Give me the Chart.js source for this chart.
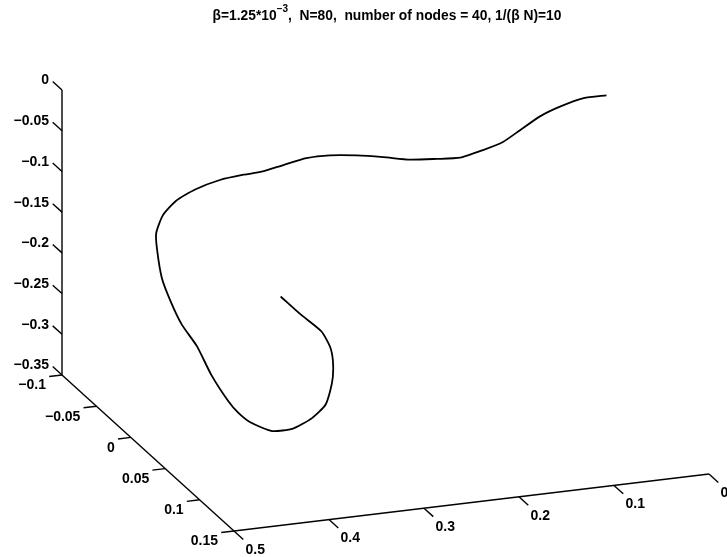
<!DOCTYPE html>
<html>
<head>
<meta charset="utf-8">
<script src="https://cdn.jsdelivr.net/npm/chart.js@4/dist/chart.umd.min.js"></script>
<style>
  html, body { margin: 0; padding: 0; background: #fff; }
  canvas { display: block; }
</style>
</head>
<body>
<canvas id="chart" width="727" height="557"></canvas>
<script>
const nodeX = [0.364, 0.342, 0.321, 0.312, 0.309, 0.309, 0.312, 0.317, 0.331, 0.351,
  0.373, 0.396, 0.409, 0.419, 0.437, 0.452, 0.468, 0.479, 0.489, 0.494,
  0.495, 0.488, 0.474, 0.454, 0.428, 0.403, 0.384, 0.361, 0.337, 0.312,
  0.284, 0.256, 0.228, 0.200, 0.175, 0.151, 0.130, 0.112, 0.091, 0.070,
  0.045, 0.021];
const nodeY = [0.03, 0.03, 0.03, 0.03, 0.03, 0.03, 0.03, 0.03, 0.03, 0.03,
  0.03, 0.03, 0.03, 0.03, 0.03, 0.03, 0.03, 0.03, 0.03, 0.03,
  0.03, 0.03, 0.03, 0.03, 0.03, 0.03, 0.03, 0.03, 0.03, 0.03,
  0.03, 0.03, 0.03, 0.03, 0.03, 0.03, 0.03, 0.03, 0.03, 0.03,
  0.03, 0.03];
const nodeZ = [-0.173, -0.199, -0.222, -0.242, -0.259, -0.279, -0.297, -0.313, -0.327, -0.337,
  -0.337, -0.323, -0.309, -0.294, -0.259, -0.222, -0.193, -0.165, -0.133, -0.098,
  -0.077, -0.056, -0.040, -0.029, -0.021, -0.018, -0.017, -0.012, -0.007, -0.007,
  -0.011, -0.017, -0.024, -0.027, -0.029, -0.023, -0.016, -0.004, 0.010, 0.019,
  0.026, 0.026];

// --- axes ---
const xRange = [0, 0.5];
const yRange = [-0.1, 0.15];
const zRange = [-0.35, 0];
const xTicks = [0.5, 0.4, 0.3, 0.2, 0.1, 0];
const xTickLabels = ["0.5", "0.4", "0.3", "0.2", "0.1", "0"];
const yTicks = [-0.1, -0.05, 0, 0.05, 0.1, 0.15];
const yTickLabels = ["\u22120.1", "\u22120.05", "0", "0.05", "0.1", "0.15"];
const zTicks = [0, -0.05, -0.1, -0.15, -0.2, -0.25, -0.3, -0.35];
const zTickLabels = ["0", "\u22120.05", "\u22120.1", "\u22120.15", "\u22120.2", "\u22120.25", "\u22120.3", "\u22120.35"];

// view: screen vector (chart units) of each full axis span
const viewX = [475, -57];   // x from 0.5 to 0
const viewY = [172, 156];   // y from -0.1 to 0.15
const viewZ = [0, -285];    // z from -0.35 to 0

function project(x, y, z) {
  const a = (xRange[1] - x) / (xRange[1] - xRange[0]);
  const b = (y - yRange[0]) / (yRange[1] - yRange[0]);
  const c = (z - zRange[0]) / (zRange[1] - zRange[0]);
  return {
    x: a * viewX[0] + b * viewY[0] + c * viewZ[0],
    y: a * viewX[1] + b * viewY[1] + c * viewZ[1],
  };
}

function segment(p, q) {
  return {
    data: [project(p[0], p[1], p[2]), project(q[0], q[1], q[2])],
    borderColor: "#000",
    borderWidth: 1.4,
    showLine: true,
    pointRadius: 0,
  };
}

const datasets = [];

// curve
datasets.push({
  data: nodeX.map((x, i) => project(x, nodeY[i], nodeZ[i])),
  borderColor: "#000",
  borderWidth: 1.8,
  showLine: true,
  pointRadius: 0,
  tension: 0.2,
});

// axis lines
const x0 = xRange[1], y0 = yRange[0], zb = zRange[0];
datasets.push(segment([x0, y0, zRange[0]], [x0, y0, zRange[1]]));
datasets.push(segment([x0, yRange[0], zb], [x0, yRange[1], zb]));
datasets.push(segment([xRange[1], yRange[1], zb], [xRange[0], yRange[1], zb]));

// tick marks
const tickLen = 0.0135;
zTicks.forEach((z) => datasets.push(segment([x0, y0, z], [x0, y0 - tickLen, z])));
yTicks.forEach((y) => datasets.push(segment([x0, y, zb], [x0 + tickLen, y, zb])));
xTicks.forEach((x) => datasets.push(segment([x, yRange[1], zb], [x, yRange[1] + tickLen, zb])));

// --- labels and title drawn onto the canvas ---
const labelFont = "bold 14px 'Liberation Sans', Arial, sans-serif";
const titleFont = "bold 13.8px 'Liberation Sans', Arial, sans-serif";
const supFont = "bold 10px 'Liberation Sans', Arial, sans-serif";

const axisLabels = {
  id: "axisLabels",
  afterDatasetsDraw(chart) {
    const ctx = chart.ctx;
    const sx = chart.scales.x, sy = chart.scales.y;
    const px = (p) => ({ x: sx.getPixelForValue(p.x), y: sy.getPixelForValue(p.y) });
    ctx.save();
    ctx.fillStyle = "#000";
    ctx.font = labelFont;
    ctx.textBaseline = "middle";

    ctx.textAlign = "right";
    zTicks.forEach((z, i) => {
      const p = px(project(x0, y0, z));
      ctx.fillText(zTickLabels[i], p.x - 13, p.y - 9.5);
    });
    yTicks.forEach((y, i) => {
      const p = px(project(x0, y, zb));
      ctx.fillText(yTickLabels[i], p.x - 16, p.y + 10.5);
    });
    ctx.textAlign = "left";
    xTicks.forEach((x, i) => {
      const p = px(project(x, yRange[1], zb));
      ctx.fillText(xTickLabels[i], p.x + 11.5, p.y + 19);
    });

    // title with superscript exponent
    const parts = [
      { t: "\u03b2=1.25*10", f: titleFont, dy: 0 },
      { t: "\u22123", f: supFont, dy: -8 },
      { t: ",  N=80,  number of nodes = 40, 1/(\u03b2 N)=10", f: titleFont, dy: 0 },
    ];
    let total = 0;
    parts.forEach((pt) => { ctx.font = pt.f; pt.w = ctx.measureText(pt.t).width; total += pt.w; });
    let cx = 387 - total / 2;
    ctx.textBaseline = "alphabetic";
    parts.forEach((pt) => {
      ctx.font = pt.f;
      ctx.fillText(pt.t, cx, 19.5 + pt.dy);
      cx += pt.w;
    });
    ctx.restore();
  },
};

new Chart(document.getElementById("chart"), {
  type: "scatter",
  data: { datasets: datasets },
  options: {
    responsive: false,
    animation: false,
    layout: { padding: 0 },
    scales: {
      x: { type: "linear", display: false, min: -62, max: 665 },
      y: { type: "linear", display: false, reverse: true, min: -375, max: 182 },
    },
    plugins: {
      legend: { display: false },
      tooltip: { enabled: false },
      title: { display: false },
    },
  },
  plugins: [axisLabels],
});
</script>
</body>
</html>
